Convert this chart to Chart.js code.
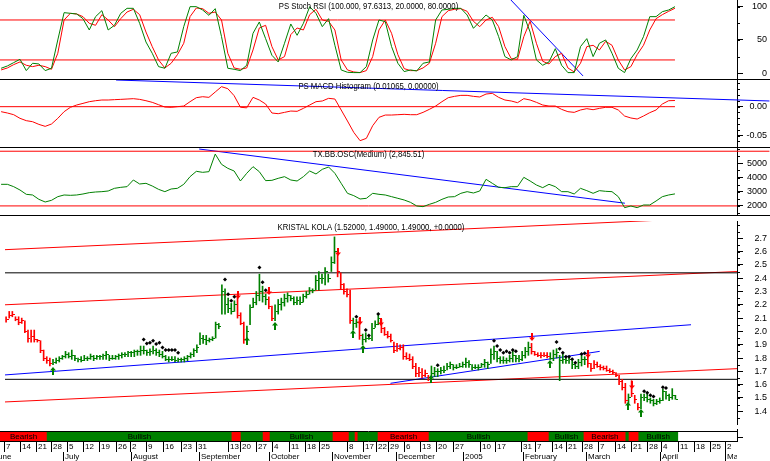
<!DOCTYPE html>
<html>
<head>
<meta charset="utf-8">
<title>KRISTAL KOLA</title>
<script src="https://cdn.jsdelivr.net/npm/chart.js@4.4.1/dist/chart.umd.min.js"></script>
<style>
  html, body { margin: 0; padding: 0; background: #fff; }
  #board { position: relative; width: 770px; height: 461px; overflow: hidden; background: #fff; }
  #board canvas { position: absolute; left: 0; }
</style>
</head>
<body>
<div id="board">
  <canvas id="rsiChart" width="770" height="80" style="top:0px"></canvas>
  <canvas id="macdChart" width="770" height="68" style="top:80px"></canvas>
  <canvas id="oscChart" width="770" height="68" style="top:148px"></canvas>
  <canvas id="priceChart" width="770" height="213" style="top:216px"></canvas>
  <canvas id="trendChart" width="770" height="32" style="top:429px"></canvas>
</div>
<script>
// one slot per trading day, early June 2004 to early April 2005
const highs = [
  2.11, 2.15, 2.15, 2.11, 2.11, 2.10, 2.08, 2.01, 2.01, 2.01,
  1.94, 1.93, 1.86, 1.81, 1.80, 1.79, 1.80, 1.81, 1.82, 1.85,
  1.84, 1.86, 1.82, 1.80, 1.81, 1.82, 1.81, 1.83, 1.82, 1.82,
  1.82, 1.83, 1.85, 1.82, 1.82, 1.82, 1.83, 1.84, 1.84, 1.85,
  1.85, 1.86, 1.86, 1.89, 1.89, 1.86, 1.87, 1.89, 1.87, 1.86,
  1.85, 1.82, 1.81, 1.81, 1.81, 1.80, 1.80, 1.81, 1.82, 1.84,
  1.87, 1.90, 1.99, 1.97, 1.97, 1.95, 1.96, 2.07, 2.06, 2.35,
  2.32, 2.25, 2.21, 2.23, 2.26, 2.14, 2.07, 2.04, 2.20, 2.25,
  2.30, 2.43, 2.34, 2.28, 2.26, 2.19, 2.20, 2.24, 2.25, 2.28,
  2.29, 2.27, 2.26, 2.26, 2.26, 2.28, 2.30, 2.33, 2.32, 2.42,
  2.45, 2.43, 2.48, 2.43, 2.56, 2.71, 2.58, 2.44, 2.36, 2.32,
  2.31, 2.10, 2.09, 2.10, 1.98, 1.99, 1.96, 2.06, 2.08, 2.12,
  2.09, 2.03, 2.00, 1.98, 1.92, 1.91, 1.90, 1.90, 1.84, 1.83,
  1.81, 1.76, 1.73, 1.72, 1.71, 1.67, 1.74, 1.73, 1.72, 1.73,
  1.74, 1.76, 1.77, 1.75, 1.75, 1.76, 1.77, 1.80, 1.78, 1.75,
  1.75, 1.75, 1.76, 1.79, 1.77, 1.87, 1.89, 1.85, 1.81, 1.81,
  1.80, 1.82, 1.85, 1.82, 1.82, 1.85, 1.88, 1.92, 1.91, 1.85,
  1.84, 1.84, 1.84, 1.84, 1.84, 1.86, 1.87, 1.82, 1.83, 1.80,
  1.80, 1.78, 1.75, 1.79, 1.82, 1.81, 1.85, 1.76, 1.78, 1.77,
  1.75, 1.74, 1.74, 1.72, 1.71, 1.69, 1.67, 1.64, 1.61, 1.53,
  1.63, 1.52, 1.46, 1.53, 1.53, 1.53, 1.50, 1.49, 1.49, 1.50,
  1.565, 1.55, 1.53, 1.57, 1.52
];
const lows = [
  2.07, 2.10, 2.11, 2.08, 2.05, 2.06, 1.99, 1.92, 1.92, 1.92,
  1.92, 1.84, 1.78, 1.76, 1.74, 1.75, 1.76, 1.77, 1.79, 1.80,
  1.80, 1.79, 1.78, 1.77, 1.77, 1.78, 1.78, 1.79, 1.78, 1.79,
  1.79, 1.79, 1.79, 1.78, 1.79, 1.79, 1.79, 1.80, 1.81, 1.81,
  1.81, 1.81, 1.82, 1.82, 1.83, 1.82, 1.82, 1.83, 1.82, 1.81,
  1.80, 1.78, 1.77, 1.78, 1.77, 1.77, 1.77, 1.77, 1.78, 1.80,
  1.81, 1.84, 1.90, 1.91, 1.90, 1.92, 1.93, 1.95, 2.02, 2.13,
  2.13, 2.14, 2.13, 2.15, 2.10, 2.05, 1.91, 1.95, 2.05, 2.18,
  2.20, 2.23, 2.22, 2.20, 2.17, 2.08, 2.08, 2.13, 2.16, 2.19,
  2.22, 2.23, 2.20, 2.20, 2.20, 2.22, 2.25, 2.28, 2.29, 2.31,
  2.31, 2.36, 2.35, 2.37, 2.45, 2.51, 2.41, 2.32, 2.28, 2.26,
  2.06, 2.01, 2.03, 1.94, 1.90, 1.92, 1.94, 1.93, 2.03, 2.05,
  1.99, 1.97, 1.95, 1.92, 1.84, 1.85, 1.86, 1.79, 1.79, 1.78,
  1.72, 1.66, 1.66, 1.65, 1.66, 1.63, 1.665, 1.66, 1.66, 1.68,
  1.69, 1.71, 1.72, 1.71, 1.72, 1.73, 1.73, 1.73, 1.73, 1.71,
  1.72, 1.71, 1.73, 1.73, 1.72, 1.76, 1.79, 1.77, 1.76, 1.76,
  1.76, 1.77, 1.77, 1.77, 1.77, 1.78, 1.80, 1.82, 1.83, 1.82,
  1.81, 1.80, 1.81, 1.80, 1.79, 1.78, 1.80, 1.63, 1.76, 1.76,
  1.76, 1.72, 1.72, 1.72, 1.74, 1.75, 1.73, 1.70, 1.72, 1.73,
  1.71, 1.71, 1.70, 1.69, 1.68, 1.66, 1.60, 1.56, 1.46, 1.46,
  1.51, 1.46, 1.41, 1.42, 1.48, 1.47, 1.46, 1.44, 1.45, 1.46,
  1.48, 1.49, 1.48, 1.49, 1.49
];
const closes = [
  2.09, 2.12, 2.13, 2.09, 2.07, 2.08, 2.00, 1.95, 1.96, 1.94,
  1.93, 1.86, 1.80, 1.78, 1.76, 1.77, 1.78, 1.80, 1.81, 1.83,
  1.81, 1.82, 1.80, 1.79, 1.78, 1.80, 1.80, 1.81, 1.80, 1.81,
  1.81, 1.82, 1.83, 1.80, 1.80, 1.81, 1.82, 1.83, 1.83, 1.84,
  1.84, 1.85, 1.85, 1.86, 1.86, 1.84, 1.85, 1.86, 1.84, 1.83,
  1.81, 1.79, 1.79, 1.79, 1.78, 1.79, 1.79, 1.80, 1.81, 1.83,
  1.86, 1.88, 1.95, 1.94, 1.93, 1.94, 1.95, 2.05, 2.04, 2.30,
  2.20, 2.17, 2.15, 2.20, 2.12, 2.06, 1.94, 2.00, 2.18, 2.22,
  2.27, 2.30, 2.26, 2.24, 2.19, 2.10, 2.15, 2.20, 2.22, 2.25,
  2.27, 2.25, 2.22, 2.23, 2.22, 2.26, 2.28, 2.31, 2.31, 2.38,
  2.40, 2.40, 2.45, 2.40, 2.52, 2.60, 2.45, 2.35, 2.30, 2.28,
  2.08, 2.06, 2.07, 1.97, 1.94, 1.95, 1.95, 2.02, 2.05, 2.10,
  2.02, 1.98, 1.96, 1.93, 1.86, 1.87, 1.88, 1.81, 1.80, 1.79,
  1.74, 1.68, 1.69, 1.67, 1.68, 1.65, 1.68, 1.70, 1.70, 1.71,
  1.71, 1.74, 1.75, 1.73, 1.73, 1.74, 1.75, 1.77, 1.75, 1.73,
  1.73, 1.73, 1.75, 1.77, 1.75, 1.83, 1.85, 1.80, 1.78, 1.78,
  1.78, 1.80, 1.82, 1.80, 1.79, 1.82, 1.85, 1.88, 1.85, 1.83,
  1.82, 1.82, 1.82, 1.81, 1.80, 1.83, 1.84, 1.78, 1.79, 1.78,
  1.79, 1.75, 1.74, 1.77, 1.79, 1.79, 1.76, 1.72, 1.75, 1.74,
  1.73, 1.72, 1.71, 1.70, 1.69, 1.67, 1.62, 1.58, 1.48, 1.50,
  1.53, 1.49, 1.43, 1.50, 1.50, 1.49, 1.48, 1.46, 1.47, 1.48,
  1.55, 1.52, 1.50, 1.52, 1.49
];

// indicators, read every second slot
const sampleStep = 2;
const stochRsi = [
  7.5, 11, 16, 21, 4, 15, 14, 4, 7.5, 50,
  91, 90, 89, 82, 65, 85, 94, 65, 72, 90,
  97.5, 97.5, 75, 47, 30, 10, 7.5, 30, 32, 70,
  100, 100, 95, 87, 97, 55, 7.5, 6, 4, 12,
  60, 77, 52, 27, 17, 45, 74, 57, 75, 100,
  90, 70, 82, 42, 5, 1.5, 1, 1, 10, 50,
  80, 77.5, 40, 15, 2.5, 5, 3.5, 15, 17, 80,
  95, 96, 97.5, 97.5, 87.5, 67.5, 77.5, 87.5, 80, 55,
  25, 20, 25, 87, 62, 20, 12, 17, 37, 12,
  1, 1, 40, 52, 25, 45, 50, 30, 7.5, 1,
  22, 35, 55, 85, 85, 92.5, 95, 100
];
const stochSignal = [
  5, 8, 13, 17, 12, 10, 12, 10, 6, 30,
  80, 90, 89, 85, 75, 72, 88, 80, 70, 82,
  92, 96, 88, 62, 40, 20, 8, 15, 28, 45,
  85, 98, 97, 90, 92, 80, 30, 8, 6, 8,
  35, 68, 72, 40, 20, 25, 58, 68, 65, 88,
  96, 80, 78, 65, 20, 5, 2, 1, 4, 25,
  65, 80, 60, 28, 7, 4, 4, 8, 15, 45,
  85, 94, 96, 97, 93, 78, 70, 80, 84, 70,
  40, 22, 21, 55, 78, 45, 18, 14, 25, 30,
  8, 2, 15, 40, 42, 35, 48, 42, 20, 5,
  10, 28, 42, 65, 82, 88, 93, 97.6313
];
const macdHist = [
  -0.0086, -0.0109, -0.0138, -0.0201, -0.0241, -0.0259, -0.0305, -0.0339, -0.0299, -0.0201,
  -0.0086, -0.0011, 0.0029, 0.0057, 0.0086, 0.0103, 0.0115, 0.0115, 0.0121, 0.0126,
  0.0132, 0.0138, 0.0126, 0.0103, 0.0075, 0.0034, -0.0006, -0.0011, 0.0, 0.0011,
  0.0086, 0.0155, 0.0172, 0.0161, 0.0253, 0.0345, 0.031, 0.019, -0.001, -0.002,
  0.0161, 0.0115, 0.0046, -0.0109, -0.0121, -0.0098, -0.0075, -0.008, -0.0029, 0.0029,
  0.0086, 0.0098, 0.0144, 0.0132, -0.0057, -0.0247, -0.0443, -0.0586, -0.0546, -0.0328,
  -0.0184, -0.0144, -0.0144, -0.0138, -0.0132, -0.0138, -0.0138, -0.0098, -0.0046, 0.0011,
  0.0086, 0.0155, 0.0178, 0.0195, 0.0195, 0.0178, 0.0167, 0.0218, 0.023, 0.0161,
  0.0115, 0.0098, 0.0069, 0.0138, 0.0115, 0.0075, 0.0029, 0.0011, 0.0011, -0.0046,
  -0.0086, -0.0098, -0.0057, -0.0034, -0.0052, -0.0029, -0.0011, -0.0011, -0.0057, -0.0161,
  -0.0195, -0.0213, -0.0161, -0.0103, -0.0057, 0.0046, 0.0103, 0.01065
];
const bbOsc = [
  3520, 3520, 3355, 3120, 2816, 2769, 2463, 2276, 2393, 2651,
  2769, 2745, 2769, 2839, 2933, 2980, 3003, 3050, 3238, 3308,
  3355, 3825, 3543, 3590, 3402, 3167, 3003, 3191, 3238, 3520,
  4059, 4435, 4364, 4411, 5650, 4928, 4646, 4458, 3754, 4294,
  4763, 4411, 3778, 3801, 3942, 4059, 3825, 3754, 4059, 4458,
  4247, 4576, 4740, 4294, 3590, 2886, 2722, 2487, 2534, 2886,
  2816, 2769, 2651, 2534, 2417, 2252, 1994, 1947, 2111, 2252,
  2463, 2628, 2651, 2886, 3003, 2909, 3050, 3872, 3590, 3308,
  3285, 3355, 3355, 4012, 3754, 3473, 3285, 3520, 3355, 3003,
  3003, 2839, 3238, 3074, 2886, 3074, 3027, 3003, 2651, 1877,
  1994, 1877, 2065, 2065, 2346, 2651, 2769, 2845.51
];

// bullish / bearish bands (slot ranges)
const trendNames = ['Bearish', 'Bullish', 'Bearish', 'Bullish', 'Bearish', 'Bullish', 'Bearish', 'Bullish', 'Bearish',
                    'Bullish', 'Bearish', 'Bullish', 'Bearish', 'Bullish', 'Bearish', 'Bullish', 'Bearish', 'Bullish'];
const trendFrom = [-0.35, 14.6, 73.3, 76.2, 83.2, 85.4, 105.4, 110.5, 112.4, 113.3, 119.7, 135.9, 167.3, 174, 185.1, 198.4, 199.4, 202.5];
const trendTo = [14.6, 73.3, 76.2, 83.2, 85.4, 105.4, 110.5, 112.4, 113.3, 119.7, 135.9, 167.3, 174, 185.1, 198.4, 199.4, 202.5, 214.9];

// signal markers on the price panel
const sellSlots = [74, 84, 106, 113, 120, 168, 186, 200];
const sellPrices = [2.27, 2.30, 2.60, 2.08, 2.07, 1.955, 1.83, 1.60];
const buySlots = [15, 77, 86, 111, 114, 136, 174, 199, 203];
const buyPrices = [1.70, 1.93, 2.04, 1.98, 1.87, 1.64, 1.755, 1.44, 1.385];
const dotSlots = [44, 45, 46, 47, 48, 49, 50, 51, 52, 53, 54, 55, 70, 71, 72, 73, 81, 82, 83, 112, 115, 116, 119, 138,
                  156, 157, 158, 159, 160, 161, 162, 163, 176, 177, 178, 179, 180, 181, 182, 184, 185, 204, 205, 206, 207, 210, 211];
const dotPrices = [1.94, 1.91, 1.915, 1.93, 1.905, 1.915, 1.88, 1.86, 1.86, 1.86, 1.86, 1.84, 2.39, 2.28, 2.23, 2.26, 2.48, 2.37, 2.31,
                   2.11, 2.01, 1.97, 2.13, 1.745, 1.93, 1.89, 1.86, 1.84, 1.85, 1.84, 1.86, 1.85, 1.92, 1.87, 1.84, 1.81, 1.81,
                   1.79, 1.765, 1.83, 1.835, 1.55, 1.54, 1.52, 1.51, 1.58, 1.575];

// drawn studies: [slotA, valueA, slotB, valueB]
const priceRedLines = [[-0.35, 2.614, 233.7, 2.862], [-0.35, 2.20, 233.7, 2.45], [-0.35, 1.47, 233.7, 1.72]];
const priceBlackLevels = [2.44, 1.64];
const priceBlueLines = [[-0.35, 1.673, 219, 2.05], [122.9, 1.61, 189.8, 1.85]];
const rsiLevels = [80, 20];
const rsiBlueLine = [161.9, 110, 184.8, -4];
const macdBlueLine = [36.5, 0.046, 244, 0.0098];
const oscLevels = [5850, 2000];
const oscBlueLine = [62.9, 6005, 198.1, 2190];

// axis labels
const rsiTicks = [0, 50, 100];
const macdTicks = [-0.05, 0];
const oscTicks = [2000, 3000, 4000, 5000];
const priceTicks = [1.4, 1.5, 1.6, 1.7, 1.8, 1.9, 2.0, 2.1, 2.2, 2.3, 2.4, 2.5, 2.6, 2.7];
const weekLabels = ['7', '14', '21', '28', '5', '12', '19', '26', '2', '9', '16', '23', '31', '13', '20', '27', '4', '11', '18', '25',
                    '8', '17', '22', '29', '6', '13', '20', '27', '10', '17', '31', '7', '14', '21', '28', '7', '14', '21', '28',
                    '4', '11', '18', '25', '2'];
const weekSlots = [1, 6, 11, 16, 21, 26, 31, 36.5, 41, 46, 51.5, 57, 62, 72, 76, 81, 86, 91.5, 96.5, 101,
                   110, 115, 119, 123, 128, 133, 138, 143.5, 152, 157, 165, 169.5, 175, 179.5, 184.5, 189.5, 195, 200, 205,
                   209.5, 215, 220, 225, 230];
const monthLabels = ['June', 'July', 'August', 'September', 'October', 'November', 'December', '2005', 'February', 'March', 'April', 'May'];
const monthSlots = [-3, 19.6, 41.3, 62.9, 85, 105, 125.4, 146.6, 165.6, 185.7, 209.2, 230];

// ---- drawing ----
const FONT = '"Liberation Sans", Arial, sans-serif';
const RED = '#ff0000', GREEN = '#008000', BLUE = '#0000ff', BLACK = '#000000';
const X_MIN = -0.35, X_MAX = 233.7;
const lastSlot = closes.length - 1;

function stateAt(slot) {
  for (let i = 0; i < trendNames.length; i++) {
    if (slot >= trendFrom[i] && slot < trendTo[i]) return trendNames[i];
  }
  return 'Bullish';
}
const series = vals => vals.map((v, i) => ({ x: i * sampleStep, y: v }));
const segment = l => [{ x: l[0], y: l[1] }, { x: l[2], y: l[3] }];
const level = (v, x1) => [{ x: X_MIN, y: v }, { x: x1, y: v }];

function lineDs(points, color, extra) {
  return Object.assign({ type: 'line', data: points, borderColor: color, borderWidth: 1, pointRadius: 0, tension: 0, fill: false }, extra || {});
}

function markImage(color, kind) {
  const c = document.createElement('canvas');
  if (kind === 'tick') {
    c.width = 5; c.height = 1;
  } else {
    c.width = 6; c.height = 8;
  }
  const g = c.getContext('2d');
  g.fillStyle = color;
  if (kind === 'tick') {
    g.fillRect(3, 0, 2, 1);
  } else if (kind === 'up') {
    g.beginPath();
    g.moveTo(3, 0); g.lineTo(6, 3.5); g.lineTo(0, 3.5);
    g.closePath(); g.fill();
    g.fillRect(2, 3, 2, 5);
  } else {
    g.beginPath();
    g.moveTo(3, 8); g.lineTo(6, 4.5); g.lineTo(0, 4.5);
    g.closePath(); g.fill();
    g.fillRect(2, 0, 2, 5);
  }
  return c;
}
const tickGreen = markImage(GREEN, 'tick'), tickRed = markImage(RED, 'tick');
const arrowUp = markImage(GREEN, 'up'), arrowDown = markImage(RED, 'down');

// titles, panel separators and minor axis ticks
const panelDecor = {
  id: 'panelDecor',
  beforeDraw(chart) { chart.ctx.imageSmoothingEnabled = false; },
  afterDatasetsDraw(chart, args, opts) {
    const { ctx, chartArea } = chart;
    const ys = chart.scales.y;
    ctx.save();
    ctx.strokeStyle = BLACK;
    ctx.lineWidth = 1;
    if (opts.minorStep) {
      const step = opts.minorStep;
      ctx.beginPath();
      for (let k = Math.ceil(ys.min / step); k * step <= ys.max; k++) {
        const y = Math.round(ys.getPixelForValue(k * step)) + 0.5;
        ctx.moveTo(chartArea.right, y);
        ctx.lineTo(chartArea.right + 3, y);
      }
      ctx.stroke();
    }
    if (opts.separator) {
      ctx.beginPath();
      ctx.moveTo(0, chartArea.bottom + 0.5);
      ctx.lineTo(chart.width, chartArea.bottom + 0.5);
      ctx.stroke();
    }
    if (opts.title) {
      ctx.fillStyle = BLACK;
      ctx.font = '9px ' + FONT;
      ctx.textAlign = 'center';
      ctx.textBaseline = 'middle';
      ctx.translate((chartArea.left + chartArea.right) / 2, chartArea.top + 6.5);
      ctx.scale(0.86, 1);
      ctx.fillText(opts.title, 0, 0);
    }
    ctx.restore();
  }
};

function rightAxis(min, max, ticks, fmt) {
  return {
    position: 'right', min: min, max: max,
    afterFit(s) { s.width = 30; s.paddingTop = 0; s.paddingBottom = 0; },
    afterBuildTicks(s) { s.ticks = ticks.map(v => ({ value: v })); },
    border: { display: true, color: BLACK, width: 1 },
    grid: { drawOnChartArea: false, drawTicks: true, tickLength: 6, color: BLACK },
    ticks: { crossAlign: 'far', color: BLACK, padding: 2, font: { family: FONT, size: 9 }, callback: v => fmt(v) }
  };
}

function panelOptions(yAxis, decor) {
  return {
    responsive: false, animation: false, events: [],
    layout: { padding: { left: 0, top: 0, right: 3, bottom: 1 } },
    scales: {
      x: { type: 'linear', display: false, min: X_MIN, max: X_MAX, offset: false },
      y: yAxis
    },
    plugins: { legend: { display: false }, tooltip: { enabled: false }, panelDecor: decor }
  };
}

new Chart(document.getElementById('rsiChart'), {
  type: 'line',
  data: {
    datasets: [
      lineDs(series(stochRsi), GREEN),
      lineDs(series(stochSignal), RED),
      ...rsiLevels.map(v => lineDs(level(v, lastSlot), RED)),
      lineDs(segment(rsiBlueLine), BLUE)
    ]
  },
  options: panelOptions(rightAxis(-8.6, 110, rsiTicks, v => String(v)),
    { title: 'PS Stoch RSI (100.000, 97.6313, 20.0000, 80.0000)', separator: true, minorStep: 25 }),
  plugins: [panelDecor]
});

new Chart(document.getElementById('macdChart'), {
  type: 'line',
  data: {
    datasets: [
      lineDs(series(macdHist), RED),
      lineDs(level(0, lastSlot), RED),
      lineDs(segment(macdBlueLine), BLUE, { clip: { left: 0, top: 0, right: false, bottom: 0 } })
    ]
  },
  options: panelOptions(rightAxis(-0.0695, 0.046, macdTicks, v => v.toFixed(2)),
    { title: 'PS MACD Histogram (0.01065, 0.00000)', separator: true, minorStep: 0.01 }),
  plugins: [panelDecor]
});

new Chart(document.getElementById('oscChart'), {
  type: 'line',
  data: {
    datasets: [
      lineDs(series(bbOsc), GREEN),
      lineDs(level(oscLevels[0], 244), RED, { clip: { left: 0, top: 0, right: false, bottom: 0 } }),
      lineDs(level(oscLevels[1], X_MAX), RED),
      lineDs(segment(oscBlueLine), BLUE)
    ]
  },
  options: panelOptions(rightAxis(1360, 6077, oscTicks, v => String(v)),
    { title: 'TX.BB.OSC(Medium) (2,845.51)', separator: true, minorStep: 500 }),
  plugins: [panelDecor]
});

const barColors = closes.map((c, s) => stateAt(s) === 'Bullish' ? GREEN : RED);
new Chart(document.getElementById('priceChart'), {
  type: 'bar',
  data: {
    datasets: [
      { type: 'scatter', data: sellSlots.map((s, i) => ({ x: s, y: sellPrices[i] })), pointStyle: arrowDown, pointRadius: 4 },
      { type: 'scatter', data: buySlots.map((s, i) => ({ x: s, y: buyPrices[i] })), pointStyle: arrowUp, pointRadius: 4 },
      { type: 'scatter', data: dotSlots.map((s, i) => ({ x: s, y: dotPrices[i] })), pointStyle: 'rectRot', pointRadius: 2,
        backgroundColor: BLACK, borderColor: BLACK, borderWidth: 0 },
      { type: 'scatter', data: closes.map((c, s) => ({ x: s, y: c })), pointRadius: 2,
        pointStyle: closes.map((c, s) => stateAt(s) === 'Bullish' ? tickGreen : tickRed) },
      { type: 'bar', data: highs.map((h, s) => ({ x: s, y: [lows[s], h] })), backgroundColor: barColors,
        barThickness: 1, borderWidth: 0 },
      ...priceBlackLevels.map(v => lineDs(level(v, X_MAX), BLACK)),
      ...priceBlueLines.map(l => lineDs(segment(l), BLUE)),
      ...priceRedLines.map(l => lineDs(segment(l), RED))
    ]
  },
  options: panelOptions(rightAxis(1.3043, 2.8295, priceTicks, v => v.toFixed(1)),
    { title: 'KRISTAL KOLA (1.52000, 1.49000, 1.49000, +0.0000)', separator: false, minorStep: 0.05 }),
  plugins: [panelDecor]
});

// band labels plus the week and month rows under the price panel
const trendBand = {
  id: 'trendBand',
  beforeDatasetsDraw(chart) {
    const { ctx, chartArea } = chart;
    ctx.save();
    ctx.strokeStyle = BLACK;
    ctx.lineWidth = 1;
    ctx.beginPath();
    ctx.moveTo(0, chartArea.top - 0.5); ctx.lineTo(chartArea.right, chartArea.top - 0.5);
    ctx.moveTo(0, chartArea.bottom + 0.5); ctx.lineTo(chartArea.right, chartArea.bottom + 0.5);
    ctx.moveTo(chartArea.right + 0.5, 0); ctx.lineTo(chartArea.right + 0.5, chartArea.bottom + 1);
    ctx.moveTo(chartArea.right, 8.5); ctx.lineTo(chartArea.right + 6, 8.5);
    ctx.stroke();
    ctx.restore();
  },
  afterDatasetsDraw(chart) {
    const { ctx, chartArea } = chart;
    const xs = chart.scales.x;
    const meta = chart.getDatasetMeta(0);
    ctx.save();
    ctx.fillStyle = BLACK;
    ctx.font = '8px ' + FONT;
    ctx.textAlign = 'center';
    ctx.textBaseline = 'middle';
    meta.data.forEach((bar, i) => {
      if (Math.abs(bar.x - bar.base) > 30) ctx.fillText(trendNames[i], (bar.x + bar.base) / 2, bar.y + 0.5);
    });
    ctx.beginPath();
    ctx.rect(0, 0, chartArea.right, chart.height);
    ctx.clip();
    const dateTop = chartArea.bottom + 1, dateBottom = dateTop + 10, monthBottom = dateBottom + 10;
    ctx.strokeStyle = BLACK;
    ctx.lineWidth = 1;
    ctx.beginPath();
    weekSlots.forEach(s => {
      const x = Math.round(xs.getPixelForValue(s)) + 0.5;
      ctx.moveTo(x, dateTop); ctx.lineTo(x, dateBottom);
    });
    monthSlots.forEach(s => {
      const x = Math.round(xs.getPixelForValue(s)) + 0.5;
      ctx.moveTo(x, dateBottom); ctx.lineTo(x, monthBottom);
    });
    ctx.stroke();
    ctx.textAlign = 'left';
    weekLabels.forEach((t, i) => ctx.fillText(t, Math.round(xs.getPixelForValue(weekSlots[i])) + 2, dateTop + 5));
    monthLabels.forEach((t, i) => ctx.fillText(t, Math.round(xs.getPixelForValue(monthSlots[i])) + 2, dateBottom + 5));
    ctx.restore();
  }
};

new Chart(document.getElementById('trendChart'), {
  type: 'bar',
  data: {
    labels: ['trend'],
    datasets: [{
      data: trendNames.map((n, i) => ({ x: [trendFrom[i], trendTo[i]], y: 'trend' })),
      backgroundColor: trendNames.map(n => n === 'Bullish' ? GREEN : RED),
      borderWidth: 0, barPercentage: 1, categoryPercentage: 1, grouped: false
    }]
  },
  options: {
    indexAxis: 'y', responsive: false, animation: false, events: [],
    layout: { padding: { left: 0, right: 33, top: 3, bottom: 20 } },
    scales: {
      x: { type: 'linear', display: false, min: X_MIN, max: X_MAX },
      y: { type: 'category', display: false }
    },
    plugins: { legend: { display: false }, tooltip: { enabled: false } }
  },
  plugins: [trendBand]
});
</script>
</body>
</html>
